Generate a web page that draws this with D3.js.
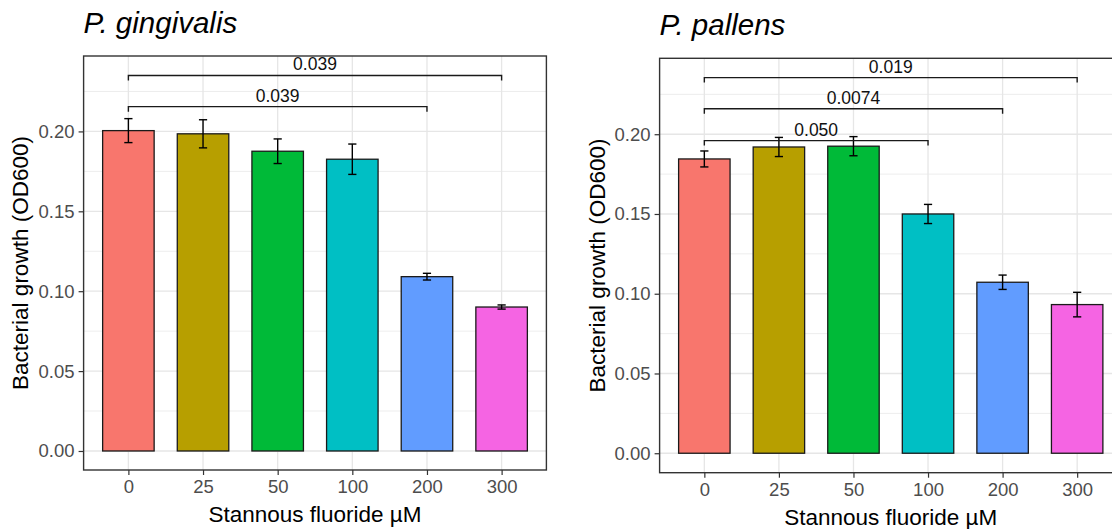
<!DOCTYPE html>
<html><head><meta charset="utf-8">
<script src="https://cdn.jsdelivr.net/npm/d3@7"></script>
<style>body{margin:0;background:#fff;overflow:hidden}svg{display:block}</style>
</head><body>
<svg id="chart" width="1112" height="529"></svg>
<script>
// ---- data ----
const categories = ["0", "25", "50", "100", "200", "300"];
const gingivalisMeans = [0.2005, 0.1985, 0.1876, 0.1826, 0.1091, 0.0901];
const gingivalisErrors = [0.0075, 0.0088, 0.0077, 0.0095, 0.0021, 0.0013];
const pallensMeans = [0.1845, 0.1920, 0.1925, 0.1500, 0.1072, 0.0932];
const pallensErrors = [0.0050, 0.0060, 0.0060, 0.0060, 0.0045, 0.0077];
const gingivalisBrackets = [
  {from: "0", to: "300", y: 0.2350, label: "0.039"},
  {from: "0", to: "200", y: 0.2155, label: "0.039"}
];
const pallensBrackets = [
  {from: "0", to: "300", y: 0.2355, label: "0.019"},
  {from: "0", to: "200", y: 0.2160, label: "0.0074"},
  {from: "0", to: "100", y: 0.1960, label: "0.050"}
];
const yTicks = [0, 0.05, 0.10, 0.15, 0.20];
const yMinorTicks = [0.025, 0.075, 0.125, 0.175, 0.225];
const fillColors = ["#F8766D", "#B79F00", "#00BA38", "#00BFC4", "#619CFF", "#F564E3"];
const titles = ["P. gingivalis", "P. pallens"];
const xTitle = "Stannous fluoride µM";
const yTitle = "Bacterial growth (OD600)";

const FONT = "'Liberation Sans', Arial, sans-serif";
const svg = d3.select("#chart");

function panel(cfg) {
  const g = svg.append("g");
  const x = d3.scalePoint().domain(categories).range([cfg.left, cfg.right]).padding(0.6);
  const y = d3.scaleLinear().domain(cfg.yDomain).range([cfg.bottom, cfg.top]);
  const step = x.step();
  const barW = step * 0.69;
  const capW = step * 0.11;

  g.append("rect").attr("x", cfg.left).attr("y", cfg.top)
    .attr("width", cfg.right - cfg.left).attr("height", cfg.bottom - cfg.top)
    .attr("fill", "#fff");
  g.selectAll(".minor").data(yMinorTicks).join("line")
    .attr("x1", cfg.left).attr("x2", cfg.right)
    .attr("y1", d => y(d)).attr("y2", d => y(d))
    .attr("stroke", "#E8E8E8").attr("stroke-width", 0.8);
  g.selectAll(".major").data(yTicks).join("line")
    .attr("x1", cfg.left).attr("x2", cfg.right)
    .attr("y1", d => y(d)).attr("y2", d => y(d))
    .attr("stroke", "#E6E6E6").attr("stroke-width", 1.3);
  g.selectAll(".vgrid").data(categories).join("line")
    .attr("x1", d => x(d)).attr("x2", d => x(d))
    .attr("y1", cfg.top).attr("y2", cfg.bottom)
    .attr("stroke", "#E6E6E6").attr("stroke-width", 1.3);

  g.selectAll(".bar").data(categories).join("rect")
    .attr("x", d => x(d) - barW / 2)
    .attr("y", (d, i) => y(cfg.means[i]))
    .attr("width", barW)
    .attr("height", (d, i) => y(0) - y(cfg.means[i]))
    .attr("fill", (d, i) => fillColors[i])
    .attr("stroke", "#1a1a1a").attr("stroke-width", 1.3);

  const eb = g.selectAll(".eb").data(categories).join("g");
  eb.append("line")
    .attr("x1", d => x(d)).attr("x2", d => x(d))
    .attr("y1", (d, i) => y(cfg.means[i] + cfg.errors[i]))
    .attr("y2", (d, i) => y(cfg.means[i] - cfg.errors[i]))
    .attr("stroke", "#000").attr("stroke-width", 1.4);
  eb.append("line")
    .attr("x1", d => x(d) - capW / 2).attr("x2", d => x(d) + capW / 2)
    .attr("y1", (d, i) => y(cfg.means[i] + cfg.errors[i]))
    .attr("y2", (d, i) => y(cfg.means[i] + cfg.errors[i]))
    .attr("stroke", "#000").attr("stroke-width", 1.4);
  eb.append("line")
    .attr("x1", d => x(d) - capW / 2).attr("x2", d => x(d) + capW / 2)
    .attr("y1", (d, i) => y(cfg.means[i] - cfg.errors[i]))
    .attr("y2", (d, i) => y(cfg.means[i] - cfg.errors[i]))
    .attr("stroke", "#000").attr("stroke-width", 1.4);

  const br = g.selectAll(".br").data(cfg.brackets).join("g");
  br.append("path")
    .attr("d", d => {
      const x1 = x(d.from), x2 = x(d.to), yy = y(d.y);
      return `M${x1},${yy + 5}V${yy}H${x2}V${yy + 5}`;
    })
    .attr("fill", "none").attr("stroke", "#1a1a1a").attr("stroke-width", 1.4);
  br.append("text")
    .attr("x", d => (x(d.from) + x(d.to)) / 2)
    .attr("y", d => y(d.y) - 5)
    .attr("text-anchor", "middle")
    .attr("font-family", FONT).attr("font-size", 17.5).attr("fill", "#111")
    .text(d => d.label);

  g.append("rect").attr("x", cfg.left).attr("y", cfg.top)
    .attr("width", cfg.right - cfg.left).attr("height", cfg.bottom - cfg.top)
    .attr("fill", "none").attr("stroke", "#333").attr("stroke-width", 1.4);

  const yAxis = g.append("g").attr("transform", `translate(${cfg.left},0)`)
    .call(d3.axisLeft(y).tickValues(yTicks).tickFormat(d3.format(".2f")).tickSize(5).tickPadding(4));
  const xAxis = g.append("g").attr("transform", `translate(0,${cfg.bottom})`)
    .call(d3.axisBottom(x).tickSize(5).tickPadding(5));
  [yAxis, xAxis].forEach(a => {
    a.select(".domain").remove();
    a.selectAll(".tick line").attr("stroke", "#333").attr("stroke-width", 1.2);
    a.selectAll("text").attr("font-family", FONT).attr("font-size", 18.5).attr("fill", "#4D4D4D");
  });

  g.append("text").attr("x", cfg.left).attr("y", cfg.top - 23)
    .attr("font-family", FONT).attr("font-size", 29.5).attr("font-style", "italic").attr("fill", "#000")
    .text(cfg.title);
  g.append("text").attr("x", (cfg.left + cfg.right) / 2).attr("y", cfg.bottom + 52)
    .attr("text-anchor", "middle")
    .attr("font-family", FONT).attr("font-size", 22.5).attr("fill", "#000")
    .text(xTitle);
  g.append("text")
    .attr("transform", `translate(${cfg.yTitleX},${(cfg.top + cfg.bottom) / 2}) rotate(-90)`)
    .attr("text-anchor", "middle")
    .attr("font-family", FONT).attr("font-size", 22.5).attr("fill", "#000")
    .text(yTitle);
}

panel({
  left: 83.6, right: 546.4, top: 56, bottom: 470,
  yDomain: [-0.0119, 0.2472],
  means: gingivalisMeans, errors: gingivalisErrors, brackets: gingivalisBrackets,
  title: titles[0], yTitleX: 28
});
panel({
  left: 659.6, right: 1121.9, top: 58.3, bottom: 472.7,
  yDomain: [-0.0122, 0.2476],
  means: pallensMeans, errors: pallensErrors, brackets: pallensBrackets,
  title: titles[1], yTitleX: 605
});
</script>
</body></html>
